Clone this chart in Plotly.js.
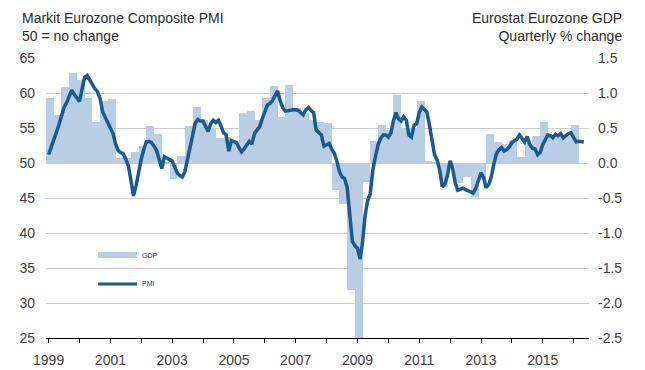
<!DOCTYPE html>
<html>
<head>
<meta charset="utf-8">
<script src="https://cdn.plot.ly/plotly-3.0.1.min.js"></script>
<style>
html,body{margin:0;padding:0;background:#fff;}
#chart{width:645px;height:370px;}
</style>
</head>
<body>
<div id="chart"></div>
<script>
// ---- Data ----
// Markit Eurozone Composite PMI, monthly, Jan 1999 .. May 2016
const pmiStartYear = 1999;
const pmiValues = [
  51.2, 52.4, 53.2, 54.3, 55.4, 56.6, 57.9, 58.6, 59.6, 60.4, 59.8, 59.2,
  58.8, 60.6, 62.2, 62.5, 61.8, 61.2, 60.6, 60.2, 59.2, 57.3, 56.5, 56.0,
  55.0, 54.2, 52.8, 51.8, 51.5, 51.3, 50.6, 49.6, 47.5, 45.3, 46.8, 48.9,
  50.6, 52.0, 53.0, 53.1, 52.9, 52.4, 51.8, 50.5, 49.2, 50.9, 50.7, 50.4,
  50.3, 49.4, 48.6, 48.2, 48.0, 48.8, 50.6, 52.3, 54.5, 55.7, 56.2, 56.0,
  56.0, 55.2, 54.5, 55.6, 56.1, 55.8, 56.1, 55.3, 54.3, 54.0, 51.7, 53.2,
  53.0, 52.9, 52.2, 51.6, 52.0, 52.5, 53.1, 52.7, 54.2, 54.7, 55.2, 56.3,
  57.2, 58.3, 58.5, 58.9, 59.6, 60.3, 58.9, 57.9, 57.4, 57.5, 57.6, 57.6,
  57.6, 57.5, 57.2, 56.9, 57.6, 57.9, 57.5, 57.2, 54.7, 54.4, 54.0, 52.4,
  52.6, 52.8, 52.0, 51.4, 50.3, 48.8, 48.0, 47.8, 46.5, 42.5, 38.8, 38.2,
  37.8, 36.3, 38.6, 42.5, 44.6, 45.6, 49.0, 50.9, 52.6, 53.5, 54.0, 54.0,
  53.7, 54.3, 56.0, 57.2, 56.3, 56.0, 56.6, 56.1, 54.0, 53.7, 55.4, 55.6,
  57.2, 58.0, 57.6, 57.3, 55.5, 53.2, 51.2, 50.4, 48.9, 46.6, 47.0, 48.2,
  50.3, 49.2, 47.2, 46.1, 46.3, 46.4, 46.2, 46.0, 45.9, 45.7, 46.4, 47.4,
  48.6, 47.9, 46.5, 46.9, 48.0, 49.8, 51.3, 51.9, 52.2, 51.7, 51.9, 52.3,
  52.9, 53.2, 53.4, 54.0, 53.4, 53.0, 53.8, 52.6, 52.1, 52.0, 51.2, 51.5,
  52.6, 53.3, 54.0, 53.9, 53.6, 54.1, 53.9, 54.2, 53.6, 53.9, 54.2, 54.3,
  53.6, 53.0, 53.1, 53.0, 53.0
];

// Eurostat Eurozone GDP, quarterly % change, 1999Q1 .. 2016Q1
const gdpStartYear = 1999;
const gdpValues = [
  0.93, 0.69, 1.08, 1.28,
  1.18, 0.93, 0.58, 0.88,
  0.91, 0.07, 0.07, 0.16,
  0.24, 0.53, 0.41, 0.02,
  -0.23, 0.10, 0.53, 0.80,
  0.61, 0.50, 0.36, 0.37,
  0.28, 0.71, 0.75, 0.62,
  0.93, 1.10, 0.66, 1.12,
  0.78, 0.72, 0.61, 0.58,
  0.57, -0.39, -0.58, -1.81,
  -2.90, -0.27, 0.31, 0.54,
  0.47, 0.97, 0.50, 0.50,
  0.89, 0.03, 0.02, -0.34,
  -0.05, -0.29, -0.20, -0.48,
  -0.24, 0.42, 0.30, 0.27,
  0.33, 0.09, 0.29, 0.38,
  0.59, 0.40, 0.38, 0.38,
  0.54
];

// Tick labels
const yearTickLabels = ['1999','','2001','','2003','','2005','','2007','','2009','','2011','','2013','','2015',''];
const pmiTickLabels = ['25','30','35','40','45','50','55','60','65'];
const gdpTickLabels = ['-2.5','-2.0','-1.5','-1.0','-0.5','0.0','0.5','1.0','1.5'];

// ---- Build plot inputs ----
function monthDate(startYear, monthIndex) {
  const y = startYear + Math.floor(monthIndex / 12);
  const m = (monthIndex % 12) + 1;
  return y + '-' + String(m).padStart(2, '0') + '-01';
}
const pmiX = pmiValues.map((_, i) => monthDate(pmiStartYear, i));
const gdpX = gdpValues.map((_, i) => monthDate(gdpStartYear, i * 3));
const yearTickVals = yearTickLabels.map((_, i) => (pmiStartYear + i) + '-01-01');
const pmiTickVals = pmiTickLabels.map(Number);
const gdpTickVals = gdpTickLabels.map(Number);

const DAY = 86400000;
const tickFont = {family: 'Liberation Sans, Arial, sans-serif', size: 14, color: '#404040'};

const traces = [
  {
    type: 'bar',
    name: 'GDP',
    x: gdpX,
    y: gdpValues,
    xaxis: 'x',
    yaxis: 'y',
    width: 93.5 * DAY,
    offset: -31 * DAY,
    marker: {color: '#b9cde5', line: {width: 0}},
    hoverinfo: 'skip'
  },
  {
    type: 'scatter',
    mode: 'lines',
    name: 'PMI',
    x: pmiX,
    y: pmiValues,
    xaxis: 'x',
    yaxis: 'y2',
    line: {color: '#1b5a8c', width: 3.5},
    hoverinfo: 'skip'
  }
];

const layout = {
  width: 645,
  height: 370,
  margin: {l: 46, r: 56, t: 58, b: 32, pad: 0},
  paper_bgcolor: '#ffffff',
  plot_bgcolor: '#ffffff',
  showlegend: false,
  bargap: 0,
  font: {family: 'Liberation Sans, Arial, sans-serif', size: 14, color: '#404040'},
  xaxis: {
    type: 'date',
    range: ['1998-12-01', '2016-07-01'],
    tickmode: 'array',
    tickvals: yearTickVals,
    ticktext: yearTickLabels,
    ticks: 'outside',
    ticklen: 4,
    tickwidth: 1,
    tickcolor: '#000000',
    showline: true,
    linecolor: '#000000',
    linewidth: 1,
    showgrid: false,
    zeroline: false,
    tickfont: tickFont,
    ticklabelstandoff: 5
  },
  yaxis: {
    side: 'right',
    range: [-2.5, 1.5],
    tickmode: 'array',
    tickvals: gdpTickVals,
    ticktext: gdpTickLabels,
    showgrid: true,
    gridcolor: '#cccccc',
    gridwidth: 1,
    zeroline: false,
    showline: false,
    ticks: '',
    tickfont: tickFont,
    ticklabelstandoff: 8
  },
  yaxis2: {
    overlaying: 'y',
    side: 'left',
    range: [25, 65],
    tickmode: 'array',
    tickvals: pmiTickVals,
    ticktext: pmiTickLabels,
    showgrid: false,
    zeroline: false,
    showline: false,
    ticks: '',
    tickfont: tickFont,
    ticklabelstandoff: 10
  },
  annotations: [
    {
      xref: 'paper', yref: 'paper',
      x: -0.0479, y: 1.18, xanchor: 'left', yanchor: 'top',
      align: 'left', showarrow: false,
      text: 'Markit Eurozone Composite PMI<br>50 = no change',
      font: {family: 'Liberation Sans, Arial, sans-serif', size: 14, color: '#2b2b2b'}
    },
    {
      xref: 'paper', yref: 'paper',
      x: 1.0645, y: 1.18, xanchor: 'right', yanchor: 'top',
      align: 'right', showarrow: false,
      text: 'Eurostat Eurozone GDP<br>Quarterly % change',
      font: {family: 'Liberation Sans, Arial, sans-serif', size: 14, color: '#2b2b2b'}
    },
    {
      xref: 'paper', yref: 'paper',
      x: 0.1731, y: 0.296, xanchor: 'left', yanchor: 'middle',
      showarrow: false, text: 'GDP',
      font: {family: 'Liberation Sans, Arial, sans-serif', size: 7, color: '#333333'}
    },
    {
      xref: 'paper', yref: 'paper',
      x: 0.1731, y: 0.1929, xanchor: 'left', yanchor: 'middle',
      showarrow: false, text: 'PMI',
      font: {family: 'Liberation Sans, Arial, sans-serif', size: 7, color: '#333333'}
    }
  ],
  shapes: [
    {
      type: 'rect', xref: 'paper', yref: 'paper',
      x0: 0.0958, x1: 0.1676, y0: 0.2857, y1: 0.3071,
      fillcolor: '#b9cde5', line: {width: 0}
    },
    {
      type: 'line', xref: 'paper', yref: 'paper',
      x0: 0.0958, x1: 0.1676, y0: 0.1929, y1: 0.1929,
      line: {color: '#1b5a8c', width: 3}
    }
  ]
};

Plotly.newPlot('chart', traces, layout, {displayModeBar: false, staticPlot: true});
</script>
</body>
</html>
